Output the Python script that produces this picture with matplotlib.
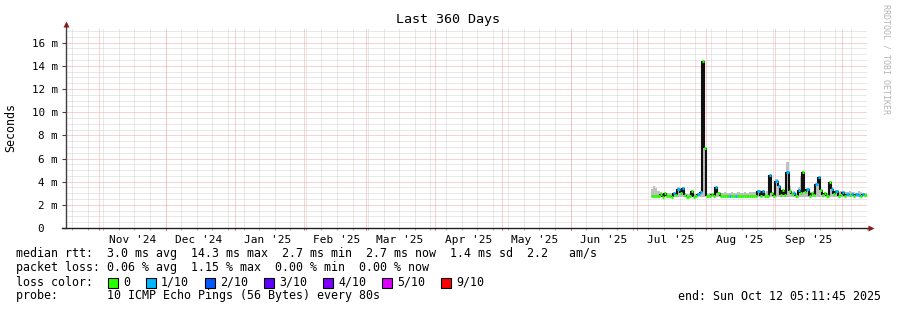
#!/usr/bin/env python3
"""SmokePing style 360 day latency graph (median rtt + smoke + loss colour)."""

import datetime as dt

import matplotlib
matplotlib.use("Agg")
import matplotlib.pyplot as plt
import matplotlib.dates as mdates
import matplotlib.transforms as mtrans
from matplotlib.collections import LineCollection
from matplotlib.patches import Rectangle
import numpy as np
import pandas as pd

# ---- data --------------------------------------------------------------
graph_start = dt.datetime(2024, 10, 17, 5, 11, 45)
graph_end = dt.datetime(2025, 10, 12, 5, 11, 45)
data_start = dt.datetime(2025, 7, 7)

# daily median rtt in ms
median_ms = [
    2.75, 2.80, 2.75, 2.80, 2.95, 2.70, 3.00, 2.75, 2.80, 2.70,
    3.00, 2.85, 3.40, 3.05, 3.45, 2.85, 2.70, 2.75, 3.20, 2.70,
    2.80, 2.95, 3.10, 14.40, 6.90, 2.75, 2.80, 2.95, 2.75, 3.50,
    3.05, 2.75, 2.75, 2.75, 2.75, 2.80, 2.75, 2.75, 2.75, 2.75,
    2.75, 2.75, 2.75, 2.75, 2.75, 2.80, 2.75, 2.75, 3.20, 2.80,
    3.20, 2.75, 2.80, 4.55, 3.00, 2.80, 4.10, 3.60, 2.85, 3.30,
    2.85, 4.80, 3.20, 2.90, 3.00, 2.75, 3.30, 3.00, 4.80, 3.10,
    3.35, 2.80, 3.00, 2.85, 3.80, 4.40, 3.30, 2.85, 3.00, 2.80,
    4.00, 3.40, 2.90, 3.20, 2.80, 2.85, 3.10, 2.80, 2.90, 2.85,
    2.90, 2.80, 2.90, 2.85, 2.80, 2.90, 2.85,
]
# top of the smoke (slowest pings) in ms
smoke_ms = [
    3.35, 3.60, 3.45, 3.20, 3.10, 3.00, 3.10, 3.05, 3.00, 2.95,
    3.10, 3.00, 3.50, 3.20, 3.50, 3.05, 2.95, 2.95, 3.30, 2.95,
    2.95, 3.05, 3.20, 14.40, 7.00, 2.90, 3.00, 3.00, 3.00, 3.55,
    3.10, 3.00, 3.05, 3.10, 3.00, 3.05, 3.10, 3.00, 3.05, 3.10,
    3.05, 3.00, 3.10, 3.05, 3.10, 3.10, 3.15, 3.10, 3.25, 3.10,
    3.30, 3.05, 3.20, 4.60, 3.10, 3.05, 4.20, 3.70, 3.10, 3.40,
    3.10, 5.70, 3.60, 3.10, 3.20, 3.00, 3.50, 4.50, 4.90, 3.30,
    3.40, 3.10, 3.10, 3.20, 3.90, 4.50, 3.40, 3.05, 3.10, 3.00,
    4.10, 3.50, 3.05, 3.30, 3.10, 3.20, 3.20, 3.15, 3.10, 3.20,
    3.15, 3.10, 3.05, 3.20, 3.10, 3.05, 3.00,
]
# lost pings out of 10 per day
loss_tenths = [
    0, 0, 0, 0, 0, 0, 0, 0, 0, 0,
    1, 0, 1, 0, 1, 0, 0, 0, 0, 0,
    0, 1, 1, 0, 0, 0, 0, 0, 0, 1,
    0, 0, 0, 0, 0, 1, 0, 0, 1, 0,
    0, 0, 0, 0, 0, 0, 0, 0, 1, 0,
    1, 0, 0, 1, 0, 0, 1, 1, 0, 0,
    0, 1, 0, 0, 1, 0, 1, 0, 0, 0,
    1, 0, 0, 0, 1, 1, 0, 0, 0, 0,
    0, 1, 0, 1, 0, 0, 1, 0, 1, 0,
    1, 0, 1, 1, 0, 1, 0,
]

loss_labels = ["0", "1/10", "2/10", "3/10", "4/10", "5/10", "9/10"]
loss_colors = ["#26ff00", "#00b8ff", "#0059ff", "#5e00ff", "#7e00ff", "#dd00ff", "#ff0000"]
loss_steps = [0, 1, 2, 3, 4, 5, 9]

x_labels = ["Nov '24", "Dec '24", "Jan '25", "Feb '25", "Mar '25", "Apr '25",
            "May '25", "Jun '25", "Jul '25", "Aug '25", "Sep '25"]

legend_lines = [
    "median rtt:  3.0 ms avg  14.3 ms max  2.7 ms min  2.7 ms now  1.4 ms sd  2.2   am/s",
    "packet loss: 0.06 % avg  1.15 % max  0.00 % min  0.00 % now",
]
probe_text = "probe:       10 ICMP Echo Pings (56 Bytes) every 80s"
end_text = "end: Sun Oct 12 05:11:45 2025"

y_top = 17.27
mono = "DejaVu Sans Mono"

# ---- figure -------------------------------------------------------------
W, H = 897, 310
fig = plt.figure(figsize=(W / 100, H / 100), dpi=100)
fig.patch.set_facecolor("white")
ax = fig.add_axes([66 / W, (H - 228) / H, 801 / W, 200 / H])
ax.set_facecolor("white")


def px(x, y):
    return x / W, 1 - y / H


t0 = mdates.date2num(graph_start)
t1 = mdates.date2num(graph_end)
ax.set_xlim(t0, t1)
ax.set_ylim(0, y_top)

# grid: weekly (Sunday) minor, monthly major, 0.5 ms minor, 2 ms major
grid_minor = "#d2d2d2"
grid_major = "#f4a8a8"
gkw = dict(lw=0.72, ls=(0, (1, 1)))
sundays = pd.date_range(graph_start.date(), graph_end, freq="W-SUN")
months = pd.date_range("2024-11-01", graph_end, freq="MS")
for d in sundays:
    ax.axvline(mdates.date2num(d), color=grid_minor, zorder=0, **gkw)
for v in np.arange(0.5, y_top, 0.5):
    if abs(v / 2 - round(v / 2)) > 1e-6:
        ax.axhline(v, color=grid_minor, zorder=0, **gkw)
for d in months:
    ax.axvline(mdates.date2num(d), color=grid_major, zorder=0.5, **gkw)
for v in np.arange(2, y_top, 2):
    ax.axhline(v, color=grid_major, zorder=0.5, **gkw)

# small tick marks under the x axis
btrans = mtrans.blended_transform_factory(ax.transData, ax.transAxes)
ax.vlines([mdates.date2num(d) for d in sundays], -0.012, 0, transform=btrans,
          color="#b0b0b0", lw=0.8, clip_on=False)
ax.vlines([mdates.date2num(d) for d in months], -0.012, 0, transform=btrans,
          color="#e06060", lw=0.8, clip_on=False)

# smoke
days = [mdates.date2num(data_start + dt.timedelta(days=i)) for i in range(len(median_ms) + 1)]
smoke_step = list(smoke_ms) + [smoke_ms[-1]]
ax.fill_between(days, 2.70, smoke_step, step="post", color="#c0c0c0", lw=0, zorder=1)

# median: black risers, loss-coloured treads
risers, treads, tread_cols = [], [], []
for i, m in enumerate(median_ms):
    treads.append([(days[i], m), (days[i + 1], m)])
    step = max(s for s in loss_steps if s <= loss_tenths[i])
    tread_cols.append(loss_colors[loss_steps.index(step)])
    if i + 1 < len(median_ms):
        risers.append([(days[i + 1], m), (days[i + 1], median_ms[i + 1])])
ax.add_collection(LineCollection(risers, colors="#111111", lw=1.5, zorder=2))
ax.add_collection(LineCollection(treads, colors=tread_cols, lw=2.2, zorder=3,
                                 capstyle="butt"))

# axes lines + arrows
for s in ("top", "right", "left", "bottom"):
    ax.spines[s].set_visible(False)
ax.plot([t0, t0], [0, y_top + 0.25], color="#404040", lw=1.0, clip_on=False, zorder=4)
ax.plot([t0 - 1.6, t1 + 1.5], [0, 0], color="#202020", lw=1.0, clip_on=False, zorder=4)
ax.plot([t0], [y_top + 0.35], marker="^", ms=4.5, color="#8b1a1a", clip_on=False,
        zorder=5, mec="none")
ax.plot([t1 + 1.6], [0], marker=">", ms=4.5, color="#8b1a1a", clip_on=False,
        zorder=5, mec="none")

# y ticks
yt = np.arange(0, y_top, 2)
ax.set_yticks(yt, ["0  "] + [f"{int(v)} m" for v in yt[1:]])
ax.tick_params(axis="y", length=3, width=0.8, color="#404040", pad=3,
               labelsize=7.8, labelfontfamily=mono)

# x labels centred 15 days after each month start
label_pos = [mdates.date2num(d + pd.Timedelta(days=15)) for d in months[:len(x_labels)]]
ax.set_xticks(label_pos, x_labels)
ax.tick_params(axis="x", length=0, pad=5, labelsize=8.0, labelfontfamily=mono)

# titles
fig.text(*px(448, 19), "Last 360 Days", ha="center", va="center",
         family=mono, fontsize=9.6)
fig.text(*px(11, 127), "Seconds", ha="center", va="center", rotation=90,
         family=mono, fontsize=8.4)
fig.text(*px(886, 4), "RRDTOOL / TOBI OETIKER", ha="center", va="top",
         rotation=270, family=mono, fontsize=6.0, color="#b4b4b4")

# legend block
for k, line in enumerate(legend_lines):
    fig.text(*px(16, 254 + 14 * k), line, ha="left", va="center",
             family=mono, fontsize=8.4)
fig.text(*px(16, 282), "loss color:", ha="left", va="center", family=mono, fontsize=8.4)
bx = 108
for lab, col in zip(loss_labels, loss_colors):
    fig.add_artist(Rectangle(px(bx, 288), 10 / W, 10 / H, facecolor=col,
                             edgecolor="black", lw=0.8, transform=fig.transFigure))
    fig.text(*px(bx + 15, 282), lab, ha="left", va="center", family=mono, fontsize=8.4)
    bx = bx + 15 + 7 * len(lab) + 16
fig.text(*px(16, 296), probe_text, ha="left", va="center", family=mono, fontsize=8.4)
fig.text(*px(881, 296), end_text, ha="right", va="center", family=mono, fontsize=8.4)

fig.savefig("out.png", dpi=100, facecolor="white")
